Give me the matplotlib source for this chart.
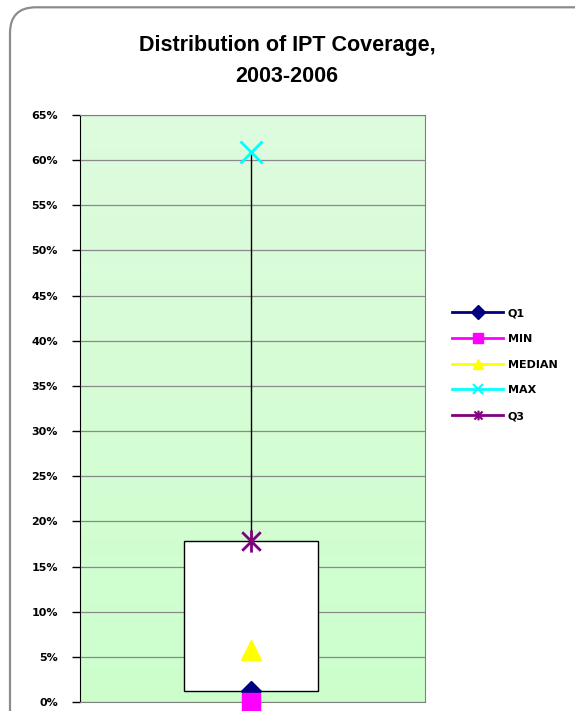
import numpy as np
import matplotlib
matplotlib.use("Agg")
import matplotlib.pyplot as plt
from matplotlib.lines import Line2D
from matplotlib.patches import FancyBboxPatch
from matplotlib.path import Path
from matplotlib.colors import LinearSegmentedColormap
from matplotlib.ticker import FuncFormatter

# summary stats of IPT coverage (fractions)
series = ["Q1", "MIN", "MEDIAN", "MAX", "Q3"]
values = [0.012, 0.0, 0.058, 0.609, 0.178]
colors = ["#000080", "#FF00FF", "#FFFF00", "#00FFFF", "#800080"]
yticks = np.arange(0, 0.66, 0.05)

# excel-style star: an x with a vertical bar through it
star = Path([(-1, -1), (1, 1), (-1, 1), (1, -1), (0, -1.2), (0, 1.2)],
            [Path.MOVETO, Path.LINETO] * 3)
markers = ["D", "s", "^", "x", star]
msizes = [10, 13, 15, 16, 16]

plt.rcParams["font.family"] = ["Liberation Sans", "DejaVu Sans"]

W, H = 575, 711
fig = plt.figure(figsize=(W / 100, H / 100), dpi=100)

# rounded chart frame (behind everything)
frame = FancyBboxPatch((10 / W, -0.1), 1.2, 1.1 - 8 / H + 0.001,
                       boxstyle="round,pad=0,rounding_size=0.045",
                       transform=fig.transFigure, fc="white", ec="#8c8c8c",
                       lw=1.6, mutation_aspect=W / H, zorder=-10)
fig.patches.append(frame)

ax = fig.add_axes([80 / W, 9 / H, 345 / W, 587 / H])
ax.set_zorder(1)
ax.set_xlim(-0.5, 0.5)
ax.set_ylim(0, 0.65)

# green gradient background
grad = np.linspace(0, 1, 256).reshape(-1, 1)
cmap = LinearSegmentedColormap.from_list("g", ["#CCFFCC", "#DEFBDE"])
ax.imshow(grad, cmap=cmap, extent=[-0.5, 0.5, 0, 0.65], origin="lower",
          aspect="auto", zorder=0)

ax.set_yticks(yticks)
ax.yaxis.set_major_formatter(FuncFormatter(lambda v, p: f"{v * 100:.0f}%"))
ax.grid(axis="y", color="#8a8a8a", lw=0.9, zorder=1)
ax.set_xticks([])
ax.tick_params(axis="y", direction="out", length=6, width=1, pad=10,
               labelsize=8)
for lab in ax.get_yticklabels():
    lab.set_fontweight("bold")
    lab.set_family("DejaVu Sans")
ax.spines["left"].set_color("black")
for sp in ("bottom", "top", "right"):
    ax.spines[sp].set_color("#808080")

v = dict(zip(series, values))
# box from Q1 to Q3
ax.bar([-0.005], [v["Q3"] - v["Q1"]], bottom=[v["Q1"]], width=0.39,
       color="white", edgecolor="black", lw=1, zorder=2)
# whisker from Q3 to MAX
ax.plot([-0.005, -0.005], [v["Q3"], v["MAX"]], color="black", lw=1, zorder=3)

handles = []
for name, val, c, m, s in zip(series, values, colors, markers, msizes):
    lined = not isinstance(m, str) or m == "x"
    ax.plot([-0.005], [val], marker=m, color=c, ms=s, mec=c,
            mew=2 if lined else 1, ls="none", zorder=4, clip_on=False)
    handles.append(Line2D([], [], color=c, lw=2, marker=m, ms=7, mec=c,
                          mew=1.5 if lined else 1))

fig.text(287 / W, 1 - 45 / H, "Distribution of IPT Coverage,",
         ha="center", va="center", fontsize=15.5, fontweight="bold")
fig.text(287 / W, 1 - 76 / H, "2003-2006",
         ha="center", va="center", fontsize=15.5, fontweight="bold")

leg = fig.legend(handles, series, loc="upper left",
                 bbox_to_anchor=(452 / W, 1 - 308 / H), frameon=False,
                 handlelength=4.6, handletextpad=0.4, labelspacing=1.42,
                 borderpad=0, borderaxespad=0,
                 prop={"weight": "bold", "size": 8, "family": "DejaVu Sans"})

fig.savefig("out.png", dpi=100)
